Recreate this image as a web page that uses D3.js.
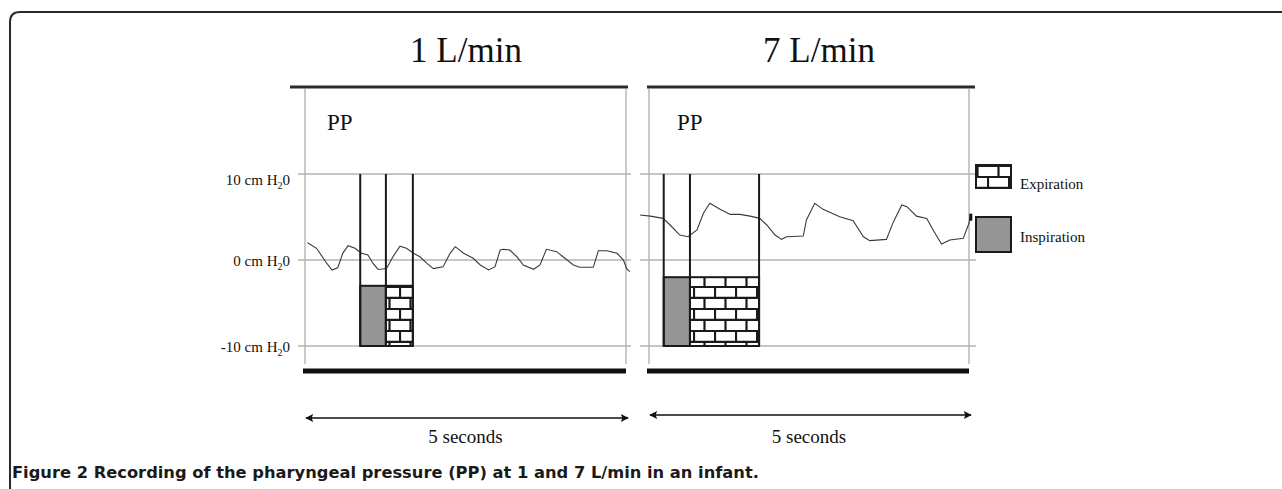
<!DOCTYPE html>
<html>
<head>
<meta charset="utf-8">
<script src="https://cdn.jsdelivr.net/npm/d3@7"></script>
<style>
  html, body { margin: 0; padding: 0; background: #fff; }
  svg { display: block; }
</style>
</head>
<body>
<svg id="chart" width="1282" height="489"></svg>
<script>
// ---------------- DATA ----------------
const panelTitles = ["1 L/min", "7 L/min"];
const traceLabel = "PP";
const yTickValues = [10, 0, -10];
const yTickUnit = ["cm H", "2", "0"];
const durationLabel = "5 seconds";
const durationSec = 5;

// Pharyngeal pressure trace, 1 L/min (time s, pressure cm H2O)
const time1 = [0.04,0.18,0.34,0.42,0.51,0.59,0.67,0.78,0.88,0.98,1.06,1.14,1.27,1.37,1.48,1.58,1.69,1.79,1.90,2.00,2.15,2.26,2.34,2.47,2.62,2.73,2.86,2.96,3.04,3.09,3.19,3.30,3.40,3.56,3.66,3.76,3.92,4.02,4.18,4.28,4.49,4.57,4.70,4.86,4.96,5.01,5.06];
const pp1   = [2.0,1.36,-0.4,-1.16,-0.9,0.8,1.67,1.36,0.78,0.58,-0.4,-1.1,-1.0,0.38,1.6,1.36,0.78,0.38,-0.4,-1.0,-0.8,0.78,1.55,0.78,0.2,-0.58,-1.16,-0.78,1.16,1.24,1.16,0.38,-0.58,-1.08,-0.58,1.24,0.97,0.38,-0.58,-0.85,-0.85,1.08,1.08,0.78,0.0,-1.0,-1.36];

// Pharyngeal pressure trace, 7 L/min
const time7 = [-0.14,0.02,0.22,0.33,0.48,0.61,0.75,0.85,0.95,1.11,1.27,1.42,1.58,1.73,1.84,1.97,2.07,2.15,2.41,2.46,2.59,2.72,2.98,3.19,3.35,3.45,3.71,3.82,3.95,4.03,4.18,4.34,4.44,4.57,4.70,4.91,4.99,5.02];
const pp7   = [5.23,5.1,4.84,4.07,2.9,2.7,3.49,5.43,6.59,5.89,5.3,5.3,5.1,4.84,4.07,2.9,2.4,2.7,2.79,4.65,6.59,5.89,5.04,4.57,2.7,2.25,2.4,4.46,6.4,6.2,5.1,4.84,3.49,1.86,2.33,2.52,4.07,4.92];

// Inspiration / expiration timing bars (seconds) and bar top (cm H2O)
const inspStart = [0.86, 0.23];
const inspEnd   = [1.26, 0.64];
const expEnd    = [1.68, 1.72];
const barTop    = [-3, -2];
const barBase   = -10;
const legendLabels = ["Expiration", "Inspiration"];
const captionBold = "Figure 2";
const captionText = "Recording of the pharyngeal pressure (PP) at 1 and 7 L/min in an infant.";

// ---------------- DRAW ----------------
const svg = d3.select("#chart");
const serif = "'Liberation Serif', 'Times New Roman', serif";

// brick pattern
const defs = svg.append("defs");
const pat = defs.append("pattern").attr("id", "brick")
  .attr("patternUnits", "userSpaceOnUse").attr("width", 21).attr("height", 22)
  .attr("x", 0).attr("y", 0);
pat.append("rect").attr("width", 21).attr("height", 22).attr("fill", "#fff");
pat.append("path").attr("d", "M0,0.8H21M0,11.8H21M1,0V11M11.5,11V22")
  .attr("stroke", "#1a1a1a").attr("stroke-width", 2.2).attr("fill", "none");
defs.append("marker").attr("id", "arr").attr("viewBox", "0 0 10 10")
  .attr("refX", 9).attr("refY", 5).attr("markerWidth", 12).attr("markerHeight", 8)
  .attr("markerUnits", "userSpaceOnUse").attr("orient", "auto-start-reverse")
  .append("path").attr("d", "M0,0L10,5L0,10L2,5Z").attr("fill", "#111");

// outer frame
svg.append("path")
  .attr("d", "M10,495V22Q10,12 20,12H1290")
  .attr("fill", "none").attr("stroke", "#2b2b2b").attr("stroke-width", 2);

const y = d3.scaleLinear().domain([-10, 10]).range([346, 174]);

const panels = [
  { x0: 305, x1: 626, gl0: 298, gl1: 631, top0: 290, top1: 628, arrowY: 418, titleX: 466, ppX: 327, time: time1, pp: pp1 },
  { x0: 649, x1: 969, gl0: 640, gl1: 976, top0: 647, top1: 975, arrowY: 415, titleX: 819, ppX: 677, time: time7, pp: pp7 }
];

panels.forEach((p, i) => {
  const x = d3.scaleLinear().domain([0, durationSec]).range([p.x0, p.x1]);
  const g = svg.append("g");

  // title
  g.append("text").attr("x", p.titleX).attr("y", 62)
    .attr("text-anchor", "middle").attr("font-family", serif).attr("font-size", 35)
    .attr("fill", "#111").text(panelTitles[i]);

  // top thick line
  g.append("line").attr("x1", p.top0).attr("x2", p.top1).attr("y1", 87).attr("y2", 87)
    .attr("stroke", "#2a2a2a").attr("stroke-width", 3);

  // panel vertical edges
  [p.x0, p.x1].forEach(vx => g.append("line").attr("x1", vx).attr("x2", vx)
    .attr("y1", 89).attr("y2", 364).attr("stroke", "#bdbdbd").attr("stroke-width", 1.6));

  // gridlines
  g.selectAll(".grid").data(yTickValues).enter().append("line")
    .attr("x1", p.gl0).attr("x2", p.gl1)
    .attr("y1", d => y(d)).attr("y2", d => y(d))
    .attr("stroke", "#b3b3b3").attr("stroke-width", 1.6);

  // PP label
  g.append("text").attr("x", p.ppX).attr("y", 130)
    .attr("font-family", serif).attr("font-size", 23).attr("fill", "#111").text(traceLabel);

  // trace
  const line = d3.line().x((d, k) => x(p.time[k])).y(d => y(d)).curve(d3.curveLinear);
  g.append("path").datum(p.pp).attr("d", line)
    .attr("fill", "none").attr("stroke", "#3a3a3a").attr("stroke-width", 1.1);

  // bars: inspiration (gray) and expiration (brick)
  g.append("rect").attr("x", x(inspStart[i])).attr("y", y(barTop[i]))
    .attr("width", x(inspEnd[i]) - x(inspStart[i])).attr("height", y(barBase) - y(barTop[i]))
    .attr("fill", "#959595").attr("stroke", "#1a1a1a").attr("stroke-width", 2);
  g.append("rect").attr("x", x(inspEnd[i])).attr("y", y(barTop[i]))
    .attr("width", x(expEnd[i]) - x(inspEnd[i])).attr("height", y(barBase) - y(barTop[i]))
    .attr("fill", "url(#brick)").attr("stroke", "#1a1a1a").attr("stroke-width", 2);

  // vertical timing lines
  [inspStart[i], inspEnd[i], expEnd[i]].forEach(t => g.append("line")
    .attr("x1", x(t)).attr("x2", x(t)).attr("y1", y(10)).attr("y2", y(barBase))
    .attr("stroke", "#1a1a1a").attr("stroke-width", 2));

  // bottom thick bar
  g.append("line").attr("x1", x(0) - 2).attr("x2", x(durationSec)).attr("y1", 371).attr("y2", 371)
    .attr("stroke", "#111").attr("stroke-width", 5);

  // duration arrow
  g.append("line").attr("x1", x(0) + 1).attr("x2", x(durationSec) + 2)
    .attr("y1", p.arrowY).attr("y2", p.arrowY)
    .attr("stroke", "#111").attr("stroke-width", 1.6)
    .attr("marker-start", "url(#arr)").attr("marker-end", "url(#arr)");
  g.append("text").attr("x", (p.x0 + p.x1) / 2).attr("y", 443)
    .attr("text-anchor", "middle").attr("font-family", serif).attr("font-size", 19)
    .attr("fill", "#111").text(durationLabel);

  if (i === 1) {
    const last = p.pp.length - 1;
    g.append("rect").attr("x", x(p.time[last]) - 1).attr("y", y(p.pp[last]) - 4)
      .attr("width", 3).attr("height", 7).attr("fill", "#111");
  }
});

// y tick labels (left)
const yl = svg.append("g");
yTickValues.forEach((v, k) => {
  const t = yl.append("text").attr("x", 290).attr("y", y(v) + (k === 0 ? 11 : 6))
    .attr("text-anchor", "end").attr("font-family", serif).attr("font-size", 15).attr("fill", "#111");
  t.append("tspan").text(v + " " + yTickUnit[0]);
  t.append("tspan").attr("font-size", 10).attr("dy", 4).text(yTickUnit[1]);
  t.append("tspan").attr("dy", -4).text(yTickUnit[2]);
});

// legend
const lg = svg.append("g");
lg.append("rect").attr("x", 976).attr("y", 165).attr("width", 35).attr("height", 23)
  .attr("fill", "url(#brick)").attr("stroke", "#1a1a1a").attr("stroke-width", 2);
lg.append("rect").attr("x", 976).attr("y", 217).attr("width", 35).attr("height", 35)
  .attr("fill", "#959595").attr("stroke", "#1a1a1a").attr("stroke-width", 2);
lg.append("text").attr("x", 1020).attr("y", 189).attr("font-family", serif).attr("font-size", 15)
  .attr("fill", "#111").text(legendLabels[0]);
lg.append("text").attr("x", 1020).attr("y", 242).attr("font-family", serif).attr("font-size", 15)
  .attr("fill", "#111").text(legendLabels[1]);

// caption
const cap = svg.append("text").attr("x", 12).attr("y", 478)
  .attr("font-family", "'DejaVu Sans', sans-serif").attr("font-size", 16.3).attr("font-weight", 700)
  .attr("fill", "#1a1a1a");
cap.append("tspan").text(captionBold + " ");
cap.append("tspan").text(captionText);
</script>
</body>
</html>
